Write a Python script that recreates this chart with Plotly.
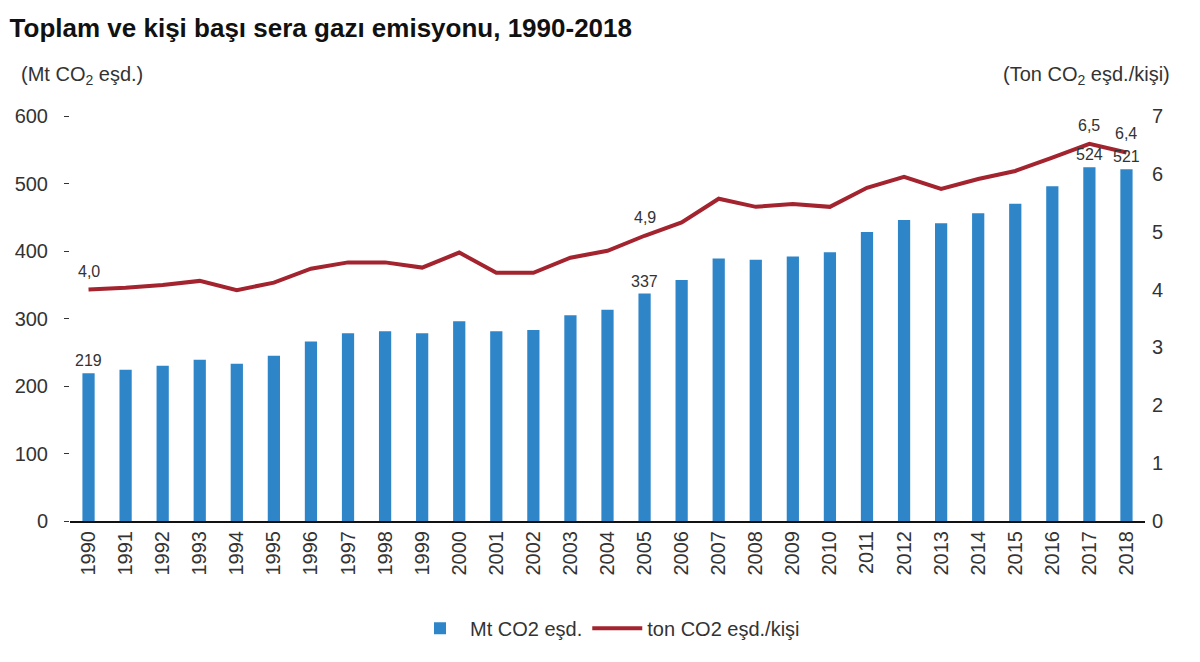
import plotly.graph_objects as go

years = [str(y) for y in range(1990, 2019)]
total_mt = [219, 224, 230, 239, 233, 245, 266, 278, 281, 278, 296, 281, 283, 305, 313,
            337, 357, 389, 387, 392, 398, 428, 446, 441, 456, 470, 496, 524, 521]
per_capita = [4.0, 4.03, 4.08, 4.15, 3.99, 4.12, 4.36, 4.47, 4.47, 4.38, 4.64, 4.29, 4.29,
              4.55, 4.67, 4.93, 5.16, 5.57, 5.43, 5.48, 5.43, 5.76, 5.95, 5.74, 5.91, 6.05,
              6.28, 6.52, 6.37]
bar_label_years = ["1990", "2005", "2017", "2018"]
line_labels = {"1990": "4,0", "2005": "4,9", "2017": "6,5", "2018": "6,4"}

FONT = "Liberation Sans, Arial, sans-serif"
LABEL_FONT = dict(size=16, color="#333333", family=FONT)

fig = go.Figure()
fig.add_trace(go.Bar(
    x=years, y=total_mt, name="Mt CO2 eşd.",
    marker=dict(color="#2E86C8", line=dict(width=0)),
    yaxis="y"))
fig.add_trace(go.Scatter(
    x=years, y=per_capita, name="ton CO2 eşd./kişi",
    mode="lines", line=dict(color="#A3232E", width=4),
    yaxis="y2"))

annotations = []
for i, (y, v) in enumerate(zip(years, total_mt)):
    if y in bar_label_years:
        annotations.append(dict(x=i, y=v, xref="x", yref="y", text=str(v),
                                showarrow=False, yanchor="bottom", yshift=2,
                                font=LABEL_FONT))
for i, (y, v) in enumerate(zip(years, per_capita)):
    if y in line_labels:
        annotations.append(dict(x=i, y=v, xref="x", yref="y2", text=line_labels[y],
                                showarrow=False, yanchor="bottom", yshift=8,
                                font=LABEL_FONT))
annotations += [
    dict(text="(Mt CO<sub>2</sub> eşd.)", xref="paper", yref="paper",
         x=-0.047, y=1.1, xanchor="left", yanchor="middle", showarrow=False,
         font=dict(size=20, color="#333333")),
    dict(text="(Ton CO<sub>2</sub> eşd./kişi)", xref="paper", yref="paper",
         x=1.025, y=1.1, xanchor="right", yanchor="middle", showarrow=False,
         font=dict(size=20, color="#333333")),
]

fig.update_layout(
    width=1200, height=662,
    margin=dict(l=70, r=55, t=116, b=141),
    paper_bgcolor="white", plot_bgcolor="white",
    font=dict(family=FONT, color="#222222"),
    bargap=0.67,
    title=dict(text="<b>Toplam ve kişi başı sera gazı emisyonu, 1990-2018</b>",
               x=0.008, xanchor="left", xref="container",
               y=0.958, yanchor="middle", yref="container",
               font=dict(size=26, color="#111111", family=FONT)),
    xaxis=dict(type="category", range=[-0.5, 28.5], showline=True,
               linecolor="#111111", linewidth=2,
               ticks="", tickangle=-90, tickfont=dict(size=20, color="#333333"),
               showgrid=False),
    yaxis=dict(range=[0, 600], dtick=100, showgrid=False, zeroline=False,
               showline=False, ticks="outside", ticklen=5, tickcolor="#333333",
               ticklabelstandoff=12,
               tickfont=dict(size=20, color="#333333")),
    yaxis2=dict(range=[0, 7], dtick=1, overlaying="y", side="right",
                showgrid=False, zeroline=False, showline=False,
                ticklabelstandoff=6,
                tickfont=dict(size=20, color="#333333")),
    legend=dict(orientation="h", x=0.5, xanchor="center", y=-0.265, yanchor="middle",
                font=dict(size=20, color="#333333"), itemwidth=50),
    showlegend=True,
    annotations=annotations,
)

fig.write_html("out.html")
